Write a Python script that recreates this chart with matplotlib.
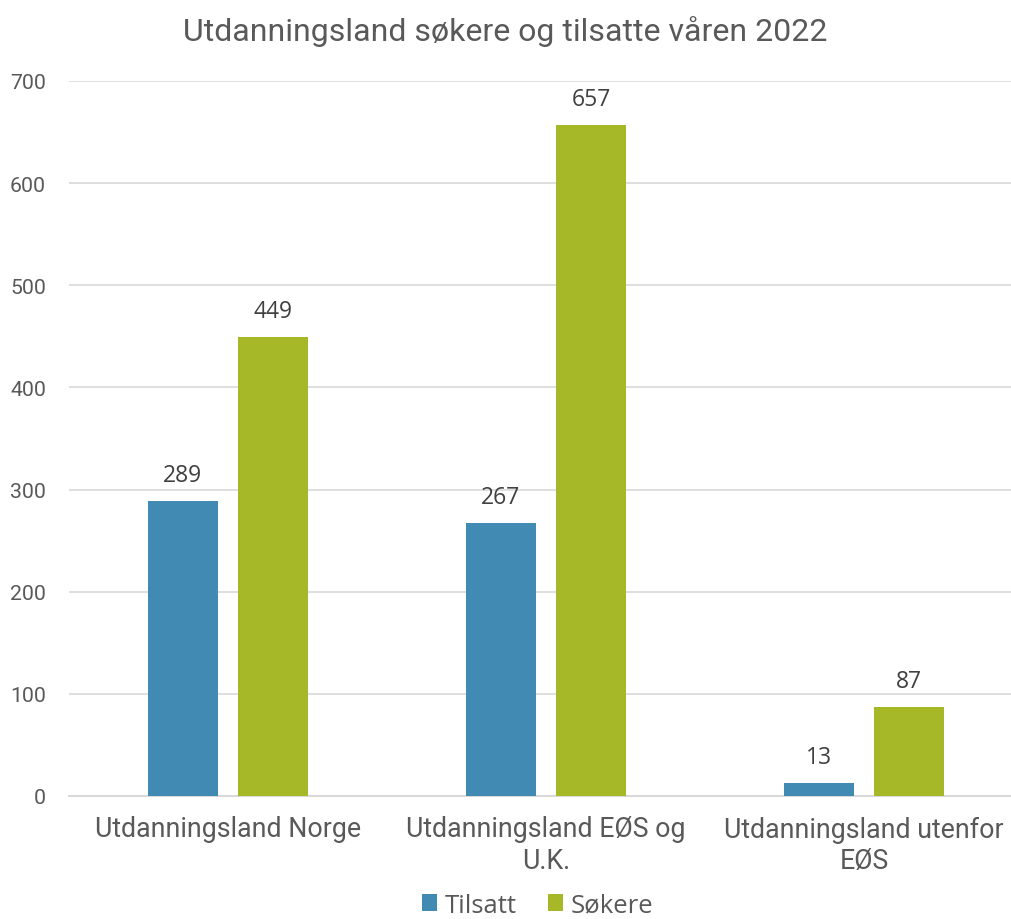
import matplotlib.pyplot as plt
import numpy as np

categories = ["Utdanningsland Norge", "Utdanningsland EØS og\nU.K.", "Utdanningsland utenfor\nEØS"]
tilsatt = [289, 267, 13]
sokere = [449, 657, 87]
series_names = ["Tilsatt", "Søkere"]

blue = "#418AB3"
green = "#A6B727"
grey_text = "#595959"

fig = plt.figure(figsize=(10.11, 9.2), dpi=100)
ax = fig.add_axes([69 / 1011, 123 / 920, 942 / 1011, 715 / 920])

x = np.arange(len(categories))
w = 0.22
off = 0.142
b1 = ax.bar(x - off, tilsatt, w, color=blue, label=series_names[0], zorder=3)
b2 = ax.bar(x + off, sokere, w, color=green, label=series_names[1], zorder=3)

for bars in (b1, b2):
    for rect in bars:
        h = rect.get_height()
        ax.annotate(f"{h:.0f}", (rect.get_x() + rect.get_width() / 2, h),
                    xytext=(0, 10), textcoords="offset points",
                    ha="center", va="bottom", fontsize=16.5,
                    family="Open Sans", color="#404040")

ax.set_xlim(-0.5, -0.5 + 942 / 318)
ax.set_ylim(0, 700)
ax.set_yticks(range(0, 701, 100))
ax.yaxis.grid(True, color="#D9D9D9", linewidth=1.2, zorder=0)
ax.set_axisbelow(True)
for s in ["top", "right", "left"]:
    ax.spines[s].set_visible(False)
ax.spines["bottom"].set_color("#D9D9D9")
ax.spines["bottom"].set_linewidth(1.5)
ax.tick_params(axis="both", length=0, colors=grey_text)
ax.tick_params(axis="y", pad=16.5, labelsize=15.3)
ax.tick_params(axis="x", pad=14, labelsize=19.3)
ax.set_xticks(x)
ax.set_xticklabels(categories, family="Roboto", linespacing=1.2)
for lab in ax.get_yticklabels():
    lab.set_family("Roboto")

fig.text(0.5, 0.966, "Utdanningsland søkere og tilsatte våren 2022",
         ha="center", va="center", fontsize=23, family="Roboto", color=grey_text)

fig.legend(loc="lower center", bbox_to_anchor=(0.532, -0.018), ncol=2, frameon=False,
           prop={"family": "Open Sans", "size": 18.5}, handlelength=0.6,
           handleheight=0.6, handletextpad=0.3, columnspacing=1.2,
           labelcolor=grey_text, borderpad=0.2)

fig.savefig("out.png", dpi=100)
